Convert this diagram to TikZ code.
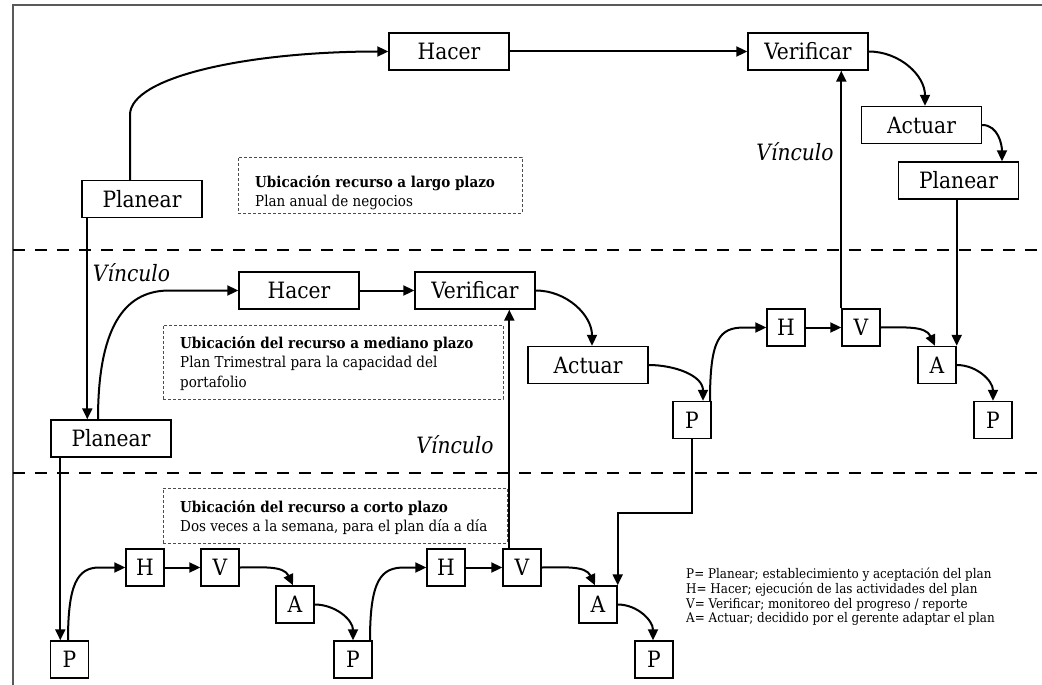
\documentclass[tikz,border=0pt]{standalone}
\usepackage{fontspec}
\setmainfont{DejaVu Serif Condensed}
\usetikzlibrary{arrows.meta}
\newcommand\boxfnt{\fontsize{22.5}{27}\selectfont}
\newcommand\vinfnt{\itshape\fontsize{22.5}{27}\selectfont}
\newcommand\notefnt{\fontsize{15}{19.5}\selectfont}
\newcommand\headfnt{\bfseries\fontsize{15}{19.5}\selectfont}
\newcommand\legfnt{\fontsize{13.3}{14.7}\selectfont}
\begin{document}
\begin{tikzpicture}[x=1pt,y=-1pt,
  bx/.style={draw, line width=1.4pt, inner sep=0pt, fill=white, font=\boxfnt},
  big/.style={bx, minimum width=120pt, minimum height=37pt},
  sm/.style={bx, minimum width=38pt, minimum height=37pt},
  arr/.style={line width=2pt, -{Triangle[length=11pt,width=10pt]}},
  sep/.style={line width=2.8pt, dash pattern=on 12pt off 10pt},
  note/.style={draw=black!70, line width=0.9pt, densely dashed, inner sep=0pt},
  notetext/.style={inner sep=0pt, align=left, font=\notefnt, anchor=west},
  vin/.style={inner sep=0pt, font=\vinfnt},
  frame/.style={draw=black!65, line width=1.8pt}]
\useasboundingbox (0,0) rectangle (1042,685);
\fill[white] (0,0) rectangle (1042,685);
% frame
\coordinate (fl) at (13,685);
\coordinate (fc) at (13,5);
\coordinate (fr) at (1042,5);
\draw[frame] (fl) -- (fc) -- (fr);
% separators
\coordinate (s1l) at (13,250); \coordinate (s1r) at (1042,250);
\coordinate (s2l) at (13,473); \coordinate (s2r) at (1042,473);
\draw[sep] (s1l) -- (s1r);
\draw[sep] (s2l) -- (s2r);
% dashed notes
\node[note, minimum width=284pt, minimum height=56pt] (db1) at (380,185) {};
\node[note, minimum width=340pt, minimum height=74pt] (db2) at (333,362) {};
\node[note, minimum width=344pt, minimum height=55pt] (db3) at (335,515.5) {};
\node[notetext] (t1) at (255,192.5) {{\headfnt Ubicación recurso a largo plazo}\\Plan anual de negocios};
\node[notetext] (t2) at (180,363.5) {{\headfnt Ubicación del recurso a mediano plazo}\\Plan Trimestral para la capacidad del\\portafolio};
\node[notetext] (t3) at (180,517.5) {{\headfnt Ubicación del recurso a corto plazo}\\Dos veces a la semana, para el plan día a día};
% legend
\node[inner sep=0pt, align=left, font=\legfnt, anchor=west] (leg) at (686,597) {P= Planear; establecimiento y aceptación del plan\\H= Hacer; ejecución de las actividades del plan\\V= Verificar; monitoreo del progreso / reporte\\A= Actuar; decidido por el gerente adaptar el plan};
% Vinculo labels
\node[vin] (vin1) at (795,152) {Vínculo};
\node[vin] (vin2) at (131.5,273) {Vínculo};
\node[vin] (vin3) at (455,445) {Vínculo};
% top level
\node[big] (pl1) at (142,199) {Planear};
\node[big] (ha1) at (449,51.5) {Hacer};
\node[big] (ve1) at (808,51.5) {Verificar};
\node[big] (ac1) at (921.5,125) {Actuar};
\node[big] (pl2) at (958.5,180.5) {Planear};
% middle level
\node[big] (ha2) at (299,290.5) {Hacer};
\node[big] (ve2) at (475,290.5) {Verificar};
\node[big] (ac2) at (588,365) {Actuar};
\node[big] (pl3) at (111,438.5) {Planear};
\node[sm] (p2a) at (692,420) {P};
\node[sm] (h2) at (786,327.5) {H};
\node[sm] (v2) at (861,327.5) {V};
\node[sm] (a2) at (937,365) {A};
\node[sm] (p2b) at (993,420) {P};
% bottom level
\node[sm] (p3a) at (69.5,659.5) {P};
\node[sm] (h3a) at (145,567.5) {H};
\node[sm] (v3a) at (220,567.5) {V};
\node[sm] (a3a) at (295,604.5) {A};
\node[sm] (p3b) at (353,659.5) {P};
\node[sm] (h3b) at (446,567.5) {H};
\node[sm] (v3b) at (522,567.5) {V};
\node[sm] (a3b) at (598,604.5) {A};
\node[sm] (p3c) at (654,659.5) {P};
% top connectors
\draw[arr] ([xshift=-12pt]pl1.north) -- ++(0,-65) .. controls +(0,-38) and +(-140,0) .. (ha1.west);
\draw[arr] (ha1.east) -- (ve1.west);
\draw[arr] (ve1.east) to[out=0,in=90] ([xshift=3.5pt]ac1.north);
\draw[arr] (ac1.east) to[out=0,in=90] ([xshift=43.5pt]pl2.north);
\draw[arr] (a2.north east |- pl2.south) -- (a2.north east);
\draw[arr] (v2.north west) -- (v2.north west |- ve1.south);
\draw[arr] ([xshift=6pt]pl1.south west) -- ([xshift=6pt]pl1.south west |- pl3.north);
% middle connectors
\draw[arr] ([xshift=-13pt]pl3.north) .. controls +(0,-100) and +(-40,0) .. ([xshift=-69pt]ha2.west) -- (ha2.west);
\draw[arr] (ha2.east) -- (ve2.west);
\draw[arr] (ve2.east) to[out=0,in=90] ([xshift=4pt]ac2.north);
\draw[arr] (ac2.east) to[out=0,in=90] ([xshift=11pt]p2a.north);
\draw[arr] ([xshift=18pt]p2a.north) .. controls +(0,-62) and +(-25,0) .. ([xshift=-22pt]h2.west) -- (h2.west);
\draw[arr] (h2.east) -- (v2.west);
\draw[arr] (v2.east) to[out=0,in=115] ([xshift=-2pt]a2.north);
\draw[arr] (a2.east) to[out=0,in=90] (p2b.north);
\draw[arr] (p2a.south) -- ++(0,74) -| (a3b.north east);
\draw[arr] ([xshift=10pt]pl3.south west) -- ([xshift=10pt]pl3.south west |- p3a.north);
% bottom connectors
\draw[arr] ([xshift=-1.5pt]p3a.north) .. controls +(0,-56) and +(-22,0) .. ([xshift=-26pt]h3a.west) -- (h3a.west);
\draw[arr] (h3a.east) -- (v3a.west);
\draw[arr] (v3a.east) to[out=0,in=115] ([xshift=-2pt]a3a.north);
\draw[arr] (a3a.east) to[out=0,in=90] (p3b.north);
\draw[arr] ([xshift=17pt]p3b.north) .. controls +(0,-61) and +(-23,0) .. ([xshift=-22pt]h3b.west) -- (h3b.west);
\draw[arr] (h3b.east) -- (v3b.west);
\draw[arr] (v3b.east) to[out=0,in=115] ([xshift=-3pt]a3b.north);
\draw[arr] (a3b.east) to[out=0,in=90] ([xshift=-1pt]p3c.north);
\draw[arr] ([xshift=7pt]v3b.north west) -- ([xshift=7pt]v3b.north west |- ve2.south);
\end{tikzpicture}
\end{document}
